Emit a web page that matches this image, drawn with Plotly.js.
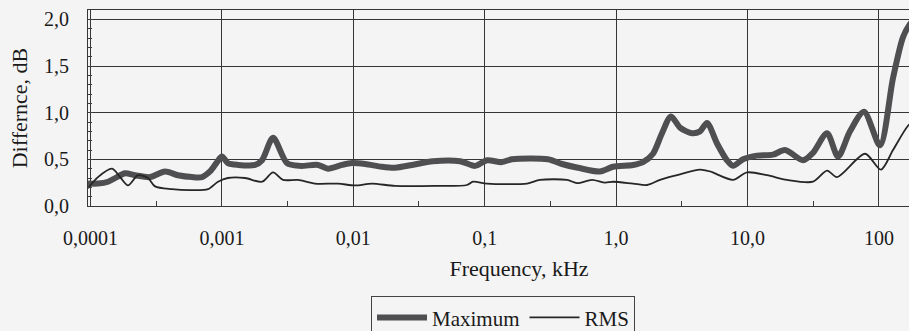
<!DOCTYPE html>
<html>
<head>
<meta charset="utf-8">
<script src="https://cdn.plot.ly/plotly-3.0.1.min.js"></script>
<style>
html,body{margin:0;padding:0;overflow:hidden;background:#f4f4f4;width:909px;height:331px;}
#chart{width:960px;height:331px;}
</style>
</head>
<body>
<div id="chart"></div>
<script>
// Frequency (kHz) and difference (dB)
var maxFreq = [0.0000957,0.000114,0.000136,0.000159,0.000183,0.000218,0.000284,0.000369,0.000463,0.000592,0.000706,0.000812,0.000918,0.001,0.00111,0.00133,0.00179,0.00202,0.00245,0.00313,0.00393,0.00539,0.00642,0.0082,0.0098,0.0123,0.0165,0.0208,0.028,0.0404,0.0649,0.0844,0.104,0.135,0.161,0.303,0.388,0.513,0.754,0.947,1.345,1.602,1.909,2.235,2.617,3.064,3.781,4.35,4.918,5.861,6.98,7.755,9.24,11.81,15.63,19.29,26.45,31.51,40.27,48.84,60.26,77.0,101.9,128.0,152.6,172.5,198.5];
var maxVal  = [0.24,0.24,0.26,0.31,0.35,0.33,0.31,0.37,0.33,0.31,0.31,0.37,0.47,0.53,0.46,0.44,0.44,0.49,0.73,0.46,0.43,0.44,0.40,0.44,0.46,0.45,0.42,0.41,0.44,0.48,0.48,0.43,0.49,0.47,0.50,0.50,0.45,0.41,0.37,0.42,0.44,0.47,0.56,0.78,0.96,0.84,0.78,0.80,0.89,0.67,0.49,0.43,0.50,0.54,0.55,0.60,0.49,0.57,0.78,0.53,0.80,1.01,0.65,1.37,1.81,1.95,2.05];

var rmsFreq = [0.0000957,0.000114,0.000146,0.000168,0.000193,0.00023,0.000274,0.00031,0.000417,0.000572,0.000784,0.000934,0.00111,0.0015,0.00202,0.00245,0.00292,0.00379,0.00511,0.00765,0.0103,0.01388,0.0208,0.0419,0.0733,0.0815,0.104,0.21,0.2636,0.423,0.504,0.655,0.823,0.947,1.345,1.719,2.158,2.908,4.35,5.183,7.755,9.91,14.07,19.98,31.51,40.27,47.99,78.4,103.7,128.0,166.5,198.5];
var rmsVal  = [0.19,0.31,0.40,0.31,0.22,0.33,0.30,0.21,0.18,0.17,0.18,0.26,0.30,0.30,0.26,0.36,0.28,0.28,0.24,0.24,0.22,0.24,0.215,0.215,0.225,0.26,0.24,0.24,0.28,0.28,0.245,0.28,0.25,0.26,0.24,0.225,0.28,0.33,0.39,0.37,0.28,0.36,0.33,0.28,0.26,0.38,0.31,0.56,0.39,0.60,0.86,0.95];

var xTickVals = [0.0001,0.001,0.01,0.1,1,10,100];
var xTickText = ['0,0001','0,001','0,01','0,1','1,0','10,0','100'];
var xMinorVals = [0.000316,0.00316,0.0316,0.316,3.16,31.6,316];
var yTickVals = [0,0.5,1.0,1.5,2.0];
var yTickText = ['0,0','0,5','1,0','1,5','2,0'];

var seriesNames = ['Maximum','RMS'];

var traces = [
  {x:maxFreq, y:maxVal, name:seriesNames[0], mode:'lines',
   line:{color:'#4f4f52', width:6, shape:'spline', smoothing:0.8}},
  {x:rmsFreq, y:rmsVal, name:seriesNames[1], mode:'lines',
   line:{color:'#262626', width:1.8, shape:'spline', smoothing:0.8}}
];

var fontFam = 'Liberation Serif, Times New Roman, serif';
var layout = {
  width:960, height:331,
  margin:{l:88, r:10, t:10, b:125},
  paper_bgcolor:'#f4f4f4', plot_bgcolor:'#f4f4f4',
  font:{family:fontFam, color:'#1a1a1a', size:20},
  showlegend:true,
  legend:{orientation:'h', xref:'container', x:503/960, xanchor:'center',
          yref:'container', y:0.04, yanchor:'middle',
          bordercolor:'#444', borderwidth:1, bgcolor:'rgba(0,0,0,0)',
          font:{size:21, family:fontFam, color:'#1a1a1a'}, itemwidth:50, tracegroupgap:0},
  xaxis:{type:'log', range:[-4.019, 2.541], tickmode:'array', tickvals:xTickVals, ticktext:xTickText,
         ticks:'inside', ticklen:6, tickcolor:'#3c3c3c', showgrid:true, gridcolor:'#363636', gridwidth:1,
         showline:true, linecolor:'#363636', linewidth:1, mirror:true, zeroline:false,
         ticklabelstandoff:14,
         tickfont:{size:20, family:fontFam},
         minor:{tickmode:'array', tickvals:xMinorVals, ticks:'inside', ticklen:5, tickcolor:'#3c3c3c', showgrid:false},
         title:{text:'Frequency, kHz', standoff:12, font:{size:22, family:fontFam}}},
  yaxis:{range:[0,2.1], tickmode:'array', tickvals:yTickVals, ticktext:yTickText,
         ticks:'inside', ticklen:5, tickcolor:'#3c3c3c', showgrid:true, gridcolor:'#363636', gridwidth:1,
         showline:true, linecolor:'#363636', linewidth:1, mirror:true, zeroline:false,
         ticklabelstandoff:14,
         tickfont:{size:20, family:fontFam},
         minor:{dtick:0.1, ticks:'inside', ticklen:4, tickcolor:'#3c3c3c', showgrid:false},
         title:{text:'Differnce, dB', standoff:10, font:{size:22, family:fontFam}}}
};

Plotly.newPlot('chart', traces, layout, {displayModeBar:false, staticPlot:true});
</script>
</body>
</html>
